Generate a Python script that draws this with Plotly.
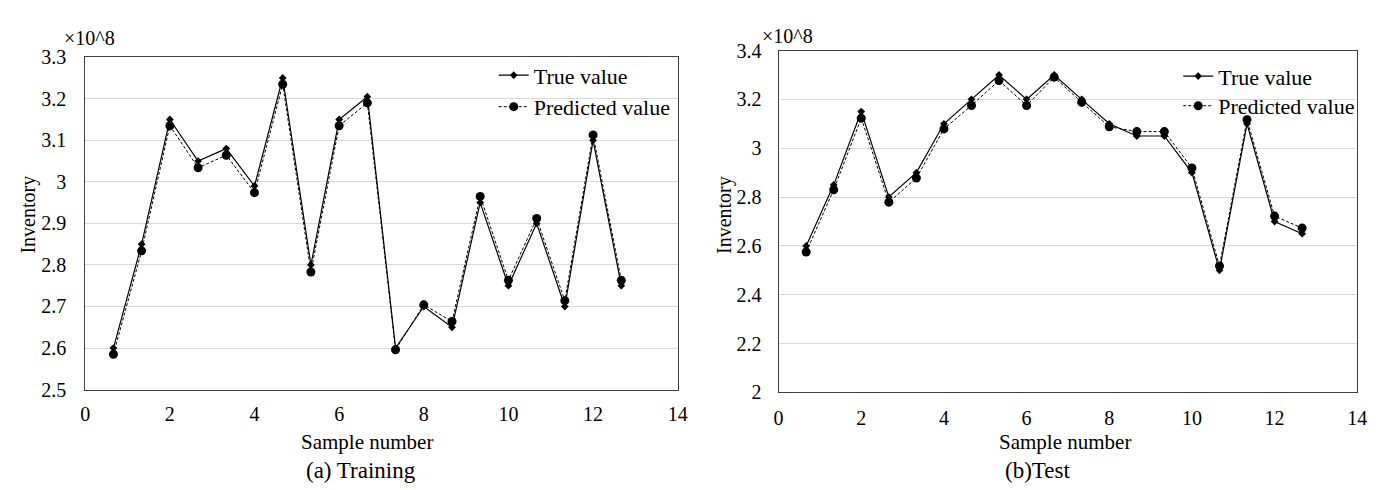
import plotly.graph_objects as go

# ---------------- data ----------------
sample_x = [0.667, 1.333, 2.0, 2.667, 3.333, 4.0, 4.667, 5.333, 6.0, 6.667,
            7.333, 8.0, 8.667, 9.333, 10.0, 10.667, 11.333, 12.0, 12.667]

train_true = [2.60, 2.85, 3.15, 3.05, 3.08, 2.99, 3.25, 2.80, 3.15, 3.205,
              2.60, 2.70, 2.65, 2.95, 2.75, 2.90, 2.70, 3.10, 2.75]
train_pred = [2.585, 2.834, 3.135, 3.034, 3.064, 2.974, 3.235, 2.783, 3.135, 3.19,
              2.596, 2.704, 2.664, 2.965, 2.763, 2.912, 2.714, 3.113, 2.763]

test_true = [2.60, 2.85, 3.15, 2.80, 2.90, 3.10, 3.20, 3.30, 3.20, 3.30,
             3.20, 3.10, 3.05, 3.05, 2.90, 2.50, 3.10, 2.70, 2.65]
test_pred = [2.575, 2.83, 3.123, 2.779, 2.878, 3.079, 3.175, 3.277, 3.175, 3.291,
             3.188, 3.088, 3.068, 3.068, 2.919, 2.518, 3.117, 2.722, 2.673]

series_names = ["True value", "Predicted value"]
x_ticks = [0, 2, 4, 6, 8, 10, 12, 14]
train_yticks = [2.5, 2.6, 2.7, 2.8, 2.9, 3.0, 3.1, 3.2, 3.3]
train_ytext = ["2.5", "2.6", "2.7", "2.8", "2.9", "3", "3.1", "3.2", "3.3"]
test_yticks = [2.0, 2.2, 2.4, 2.6, 2.8, 3.0, 3.2, 3.4]
test_ytext = ["2", "2.2", "2.4", "2.6", "2.8", "3", "3.2", "3.4"]
x_title = "Sample number"
y_title = "Inventory"
scale_label = "×10^8"
captions = ["(a) Training", "(b)Test"]

# ---------------- style ----------------
W, H = 1382, 490
FONT = "Liberation Serif, Times New Roman, serif"
INK = "#000000"

def px_x(p):
    return p / W

def px_y(p):
    return 1 - p / H

# plot areas in pixels (left, right, top, bottom)
areas = [(73, 672, 40, 388), (774, 1359, 33, 391)]
# legend placement per panel: x of legend box, y centres of the two items
legend_pos = [(486, 59, 92), (1178, 60, 91)]

fig = go.Figure()

datasets = [(train_true, train_pred), (test_true, test_pred)]
legend_ids = [("legend", "legend2"), ("legend3", "legend4")]
for i, (tv, pv) in enumerate(datasets):
    xa = "x" if i == 0 else "x2"
    ya = "y" if i == 0 else "y2"
    fig.add_trace(go.Scatter(
        x=sample_x, y=tv, name=series_names[0], mode="lines+markers",
        line=dict(color=INK, width=1.2),
        marker=dict(symbol="diamond", size=6, color=INK),
        xaxis=xa, yaxis=ya, legend=legend_ids[i][0]))
    fig.add_trace(go.Scatter(
        x=sample_x, y=pv, name=series_names[1], mode="lines+markers",
        line=dict(color=INK, width=1, dash="3px,2px"),
        marker=dict(symbol="circle", size=9, color=INK),
        xaxis=xa, yaxis=ya, legend=legend_ids[i][1]))

axis_common = dict(
    showline=True, linecolor="#404040", linewidth=1, mirror=True,
    ticks="", zeroline=False, tickfont=dict(family=FONT, size=20, color=INK),
)

l0, r0, t0, b0 = areas[0]
l1, r1, t1, b1 = areas[1]

legend_style = dict(xanchor="left", yanchor="middle", bgcolor="rgba(0,0,0,0)",
                    font=dict(family=FONT, size=22, color=INK), itemwidth=30,
                    borderwidth=0)
legends = {}
names = ["legend", "legend2", "legend3", "legend4"]
k = 0
for (lx, y1, y2) in legend_pos:
    for yy in (y1, y2):
        legends[names[k]] = dict(x=px_x(lx), y=px_y(yy), **legend_style)
        k += 1

fig.update_layout(
    width=W, height=H,
    margin=dict(l=0, r=0, t=0, b=0),
    paper_bgcolor="white", plot_bgcolor="white",
    font=dict(family=FONT, color=INK),
    xaxis=dict(domain=[px_x(l0), px_x(r0)], range=[0, 14], tickvals=x_ticks,
               anchor="y", showgrid=False, ticklabelstandoff=6, **axis_common),
    yaxis=dict(domain=[px_y(b0), px_y(t0)], range=[2.5, 3.3], tickvals=train_yticks,
               ticktext=train_ytext, anchor="x", showgrid=True, gridcolor="#d9d9d9",
               gridwidth=1, ticklabelstandoff=14, **axis_common),
    xaxis2=dict(domain=[px_x(l1), px_x(r1)], range=[0, 14], tickvals=x_ticks,
                anchor="y2", showgrid=False, ticklabelstandoff=8, **axis_common),
    yaxis2=dict(domain=[px_y(b1), px_y(t1)], range=[2.0, 3.4], tickvals=test_yticks,
                ticktext=test_ytext, anchor="x2", showgrid=True, gridcolor="#d9d9d9",
                gridwidth=1, ticklabelstandoff=12, **axis_common),
    showlegend=True,
    **legends,
)

ann = []
title_cx = [358, 1064]
cap_cx = [352, 1036]
ylab_x = [16, 720]
scale_x = [50, 755]
scale_y = [20, 18]
for i, (l, r, t, b) in enumerate(areas):
    ann.append(dict(text=x_title, x=px_x(title_cx[i]), y=px_y(443), xref="paper", yref="paper",
                    showarrow=False, xanchor="center", yanchor="middle",
                    font=dict(family=FONT, size=21, color=INK)))
    ann.append(dict(text=y_title, x=px_x(ylab_x[i]), y=px_y(205), xref="paper", yref="paper",
                    showarrow=False, xanchor="center", yanchor="middle", textangle=-90,
                    font=dict(family=FONT, size=20, color=INK)))
    ann.append(dict(text=scale_label, x=px_x(scale_x[i]), y=px_y(scale_y[i]), xref="paper",
                    yref="paper", showarrow=False, xanchor="left", yanchor="middle",
                    font=dict(family=FONT, size=20, color=INK)))
    ann.append(dict(text=captions[i], x=px_x(cap_cx[i]), y=px_y(473), xref="paper", yref="paper",
                    showarrow=False, xanchor="center", yanchor="middle",
                    font=dict(family=FONT, size=23, color=INK)))
fig.update_layout(annotations=ann)

fig.write_html("out.html")
